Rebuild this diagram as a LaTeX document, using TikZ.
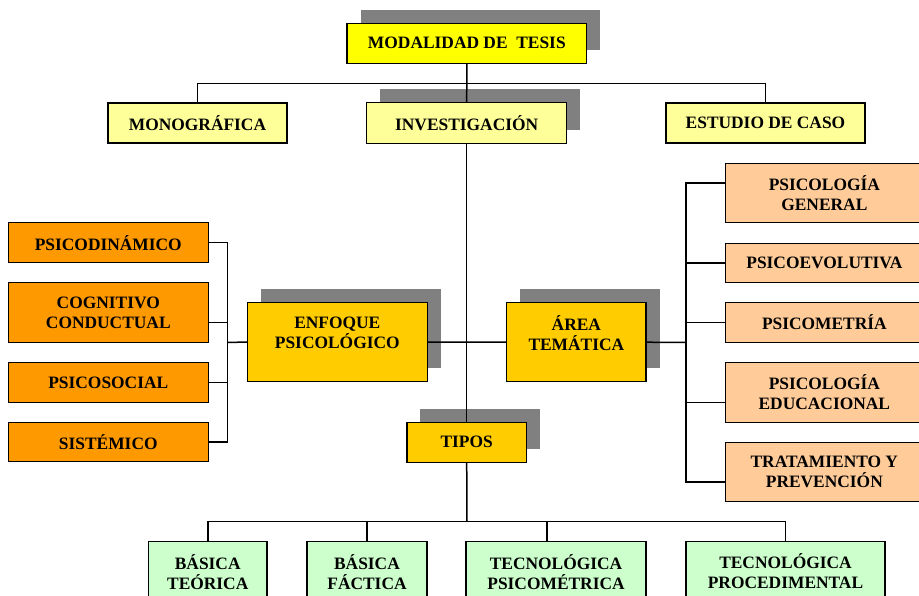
\documentclass[tikz,border=0pt]{standalone}
\usepackage{fontspec}
\setmainfont{Liberation Serif}
\usetikzlibrary{shadows}
\definecolor{cMod}{HTML}{FFFF00}
\definecolor{cLight}{HTML}{FFFF99}
\definecolor{cGold}{HTML}{FFCC00}
\definecolor{cOrange}{HTML}{FF9900}
\definecolor{cPeach}{HTML}{FFCC99}
\definecolor{cGreen}{HTML}{CCFFCC}
\definecolor{cShadow}{HTML}{808080}
\tikzset{
  box/.style={draw=black, line width=1.5pt, anchor=north west, inner sep=0pt, outer sep=0pt,
    align=center, font=\fontsize{17.4}{20}\selectfont\bfseries},
  shd/.style={drop shadow={shadow xshift=13.5pt, shadow yshift=13.5pt, fill=cShadow, opacity=1}},
  txt/.style={align=center, inner sep=0pt, font=\fontsize{17.4}{20}\selectfont\bfseries},
  conn/.style={draw=black, line width=1.5pt},
}
\begin{document}
\begin{tikzpicture}[x=1pt,y=-1pt]
\useasboundingbox (0,0) rectangle (919,596);
\clip (0,0) rectangle (919,596);
\fill[white] (0,0) rectangle (919,596);
% top level
\node[box, shd, fill=cMod, minimum width=239.7pt, minimum height=40pt] (mod) at (347,23.3) {MODALIDAD DE\ \ TESIS};
\node[box, fill=cLight, minimum width=179pt, minimum height=40pt] (mono) at (108,103) {MONOGRÁFICA};
\node[box, shd, fill=cLight, minimum width=200pt, minimum height=40.6pt] (inv) at (366.7,102.7) {INVESTIGACIÓN};
\node[box, fill=cLight, minimum width=199pt, minimum height=40pt] (est) at (666,103) {ESTUDIO DE CASO};
% middle
\node[box, shd, fill=cGold, minimum width=180pt, minimum height=79.4pt] (enf) at (247.3,302.3) {};
\node[txt] (enft) at ([yshift=9.5pt]enf.center) {ENFOQUE\\PSICOLÓGICO};
\node[box, shd, fill=cGold, minimum width=139.3pt, minimum height=79pt] (area) at (506.7,302.7) {};
\node[txt] (areat) at ([yshift=9.5pt]area.center) {ÁREA\\TEMÁTICA};
\node[box, shd, fill=cGold, minimum width=119.8pt, minimum height=40pt] (tip) at (406.8,422.3) {TIPOS};
% left column
\node[box, fill=cOrange, minimum width=200pt, minimum height=40pt] (psd) at (8.3,222.7) {PSICODINÁMICO};
\node[box, fill=cOrange, minimum width=200pt, minimum height=60.4pt] (cog) at (8.3,282.3) {COGNITIVO\\CONDUCTUAL};
\node[box, fill=cOrange, minimum width=200pt, minimum height=39.6pt] (soc) at (8.3,362.7) {PSICOSOCIAL};
\node[box, fill=cOrange, minimum width=200pt, minimum height=39.4pt] (sis) at (8.3,422.3) {SISTÉMICO};
% right column
\node[box, fill=cPeach, minimum width=197.3pt, minimum height=59.4pt] (pg) at (725.7,163.3) {PSICOLOGÍA\\GENERAL};
\node[box, fill=cPeach, minimum width=197.3pt, minimum height=39.4pt] (pev) at (725.7,243.3) {PSICOEVOLUTIVA};
\node[box, fill=cPeach, minimum width=197.3pt, minimum height=39.6pt] (pme) at (725.7,302.7) {PSICOMETRÍA};
\node[box, fill=cPeach, minimum width=197.3pt, minimum height=60pt] (ped) at (725.7,362.3) {PSICOLOGÍA\\EDUCACIONAL};
\node[box, fill=cPeach, minimum width=197.3pt, minimum height=59.2pt] (tra) at (725.7,442.3) {TRATAMIENTO Y\\PREVENCIÓN};
% bottom row
\node[box, fill=cGreen, minimum width=118.3pt, minimum height=60pt] (bt) at (148.6,541.7) {BÁSICA\\TEÓRICA};
\node[box, fill=cGreen, minimum width=120pt, minimum height=60pt] (bf) at (307,541.7) {BÁSICA\\FÁCTICA};
\node[box, fill=cGreen, minimum width=179.7pt, minimum height=60pt] (ttp) at (466.2,541.7) {TECNOLÓGICA\\PSICOMÉTRICA};
\node[box, fill=cGreen, minimum width=199pt, minimum height=58pt] (tpro) at (686,541.7) {TECNOLÓGICA\\PROCEDIMENTAL};
% junction coordinates
\coordinate (htop) at (467,83.3);
\coordinate (lbx) at (227.7,342.5);
\coordinate (rbx) at (686,342.5);
\coordinate (hbot) at (467,521.7);
% connectors
\draw[conn] (mod.south) -- (inv.north);
\draw[conn] (mono.north) |- (htop) -| (est.north);
\draw[conn] (inv.south) -- (tip.north);
\draw[conn] (enf.east) -- (area.west);
% left bracket
\draw[conn] (enf.west) -- (lbx);
\draw[conn] (psd.east) -- (psd.east -| lbx) -- (sis.east -| lbx) -- (sis.east);
\draw[conn] ([yshift=-10pt]cog.east) -- ([yshift=-10pt]cog.east -| lbx);
\draw[conn] (soc.east) -- (soc.east -| lbx);
% right bracket
\draw[conn] (area.east) -- (rbx);
\draw[conn] ([yshift=10pt]pg.west) -- ([yshift=10pt]pg.west -| rbx) -- ([yshift=-10pt]tra.west -| rbx) -- ([yshift=-10pt]tra.west);
\draw[conn] (pev.west) -- (pev.west -| rbx);
\draw[conn] (pme.west) -- (pme.west -| rbx);
\draw[conn] ([yshift=-10pt]ped.west) -- ([yshift=-10pt]ped.west -| rbx);
% bottom
\draw[conn] (tip.south) -- (hbot);
\draw[conn] (bt.north) |- (hbot) -| (tpro.north);
\draw[conn] (bf.north) -- (bf.north |- hbot);
\draw[conn] ([xshift=-9.3pt]ttp.north) -- ([xshift=-9.3pt]ttp.north |- hbot);
\end{tikzpicture}
\end{document}
